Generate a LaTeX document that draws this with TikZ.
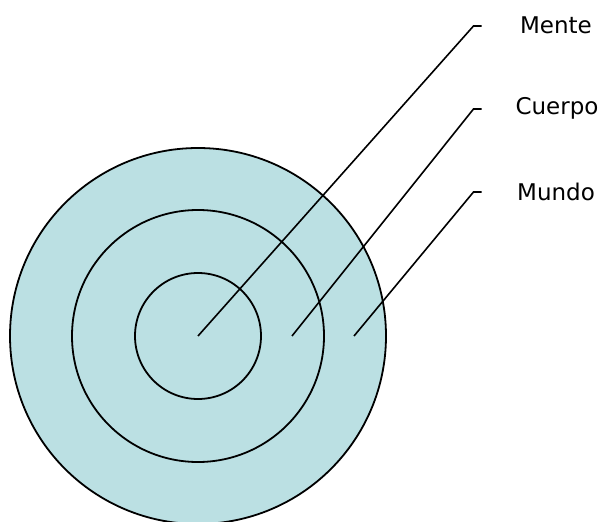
\documentclass[tikz,border=0pt]{standalone}
\usepackage{fontspec}
\setmainfont{DejaVu Sans}
\definecolor{ringfill}{RGB}{187,224,227}
\begin{document}
\begin{tikzpicture}[x=1pt,y=-1pt,
  ring/.style={draw=black,line width=1.8pt},
  leader/.style={draw=black,line width=1.6pt},
  lbl/.style={font=\fontsize{23}{27}\selectfont,inner sep=0pt}]
\useasboundingbox (0,0) rectangle (601,521);
\begin{scope}
\clip (0,0) rectangle (601,521);
\fill[ringfill] (198,336) circle (188);
\draw[ring] (198,336) circle (188);
\draw[ring] (198,336) circle (126);
\draw[ring] (198,336) circle (63);
\end{scope}
\coordinate (s1) at (198,336);
\coordinate (s2) at (292,336);
\coordinate (s3) at (354,336);
\coordinate (k1) at (473.5,26);
\coordinate (k2) at (473.5,109);
\coordinate (k3) at (473.5,192);
\coordinate (e1) at (481.5,26);
\coordinate (e2) at (481.5,109);
\coordinate (e3) at (481.5,192);
\node[lbl] (mente) at (556,25) {Mente};
\node[lbl] (cuerpo) at (557,108) {Cuerpo};
\node[lbl] (mundo) at (556,192) {Mundo};
\draw[leader] (s1) -- (k1) -- (e1);
\draw[leader] (s2) -- (k2) -- (e2);
\draw[leader] (s3) -- (k3) -- (e3);
\end{tikzpicture}
\end{document}
